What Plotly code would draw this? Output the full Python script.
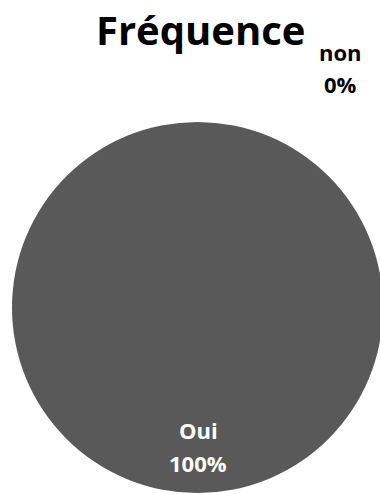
import plotly.graph_objects as go

title = "Fréquence"
labels = ["Oui", "non"]
values = [100, 0]
colors = ["#595959", "#8c8c8c"]

total = sum(values)
pcts = [f"{round(v / total * 100)}%" for v in values]

W, H = 380, 494

fig = go.Figure(go.Pie(
    labels=labels,
    values=values,
    sort=False,
    textinfo="none",
    hoverinfo="label+percent",
    marker=dict(colors=colors, line=dict(width=0)),
    domain=dict(x=[4 / W, 375 / W], y=[1 - 493 / H, 1 - 122 / H]),
    showlegend=False,
))

font = "Open Sans"


def lab(text, x, y, size, color, yanchor="middle"):
    return dict(text=f"<b>{text}</b>", x=x / W, y=1 - y / H, xref="paper", yref="paper",
                showarrow=False, xanchor="center", yanchor=yanchor,
                font=dict(family=font, size=size, color=color))


ann = [
    lab(title, 192, 0, 40, "#000000", yanchor="top"),
    lab(labels[1], 332, 52, 22, "#000000"),
    lab(pcts[1], 332.5, 83.5, 22, "#000000"),
    lab(labels[0], 190.5, 429.5, 22, "#ffffff"),
    lab(pcts[0], 190.5, 463, 22, "#ffffff"),
]

fig.update_layout(
    width=W, height=H,
    margin=dict(l=0, r=0, t=0, b=0),
    paper_bgcolor="#ffffff",
    plot_bgcolor="#ffffff",
    annotations=ann,
)

fig.write_html("out.html", post_script="document.body.style.margin='0px 0px 0px 8px';")
